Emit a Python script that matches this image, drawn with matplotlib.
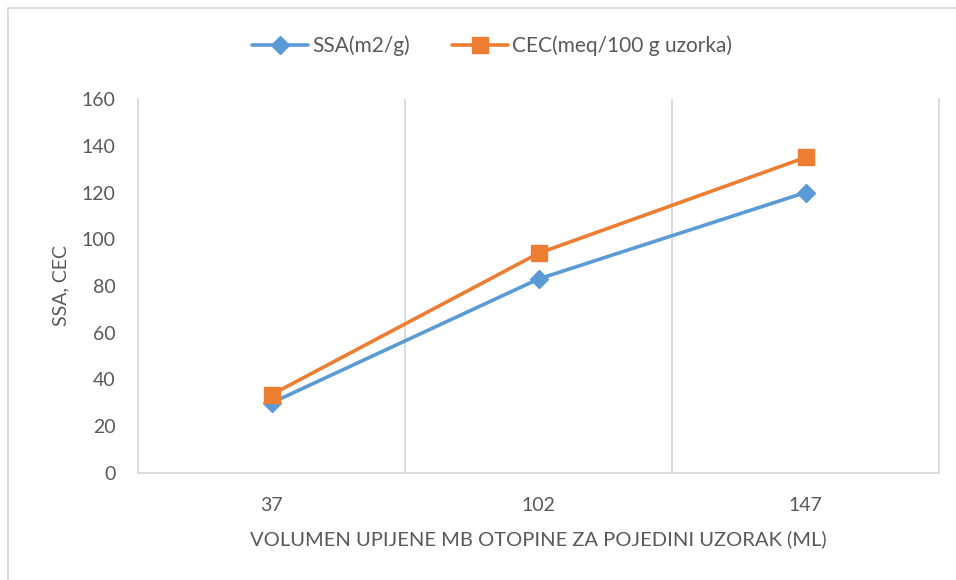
import matplotlib
matplotlib.use("Agg")
import matplotlib.pyplot as plt
from matplotlib.patches import Rectangle

categories = ["37", "102", "147"]
ssa = [30, 83, 120]
cec = [33.5, 94, 135]
yticks = [0, 20, 40, 60, 80, 100, 120, 140, 160]

plt.rcParams['font.family'] = ['Lato', 'DejaVu Sans']
text_c = "#595959"
grid_c = "#D9D9D9"

fig = plt.figure(figsize=(9.56, 5.8), dpi=100)
ax = fig.add_axes([138/956, 1-473/580, (939-138)/956, (473-99)/580])

x = list(range(len(categories)))
ax.plot(x, ssa, color="#5B9BD5", lw=2.6, marker="D", markersize=9,
        label="SSA(m2/g)", solid_capstyle="round")
ax.plot(x, cec, color="#ED7D31", lw=2.6, marker="s", markersize=11,
        label="CEC(meq/100 g uzorka)", solid_capstyle="round")

ax.set_xlim(-0.5, len(categories)-0.5)
ax.set_ylim(0, 160)
ax.set_yticks(yticks)
ax.set_xticks(x)
ax.set_xticklabels(categories)
ax.set_xticks([0.5, 1.5], minor=True)
ax.grid(True, which="minor", axis="x", color=grid_c, lw=1.3)
ax.tick_params(axis="both", which="both", length=0, labelsize=14, colors=text_c)
ax.tick_params(axis="x", pad=17)
ax.tick_params(axis="y", pad=16)
for s in ["left", "right", "bottom"]:
    ax.spines[s].set_color(grid_c)
    ax.spines[s].set_linewidth(1.3)
ax.spines["top"].set_visible(False)

ax.set_ylabel("SSA, CEC", fontsize=14, color=text_c, labelpad=9)
ax.set_xlabel("VOLUMEN UPIJENE MB OTOPINE ZA POJEDINI UZORAK (ML)",
              fontsize=14.5, color=text_c, labelpad=12)

leg = fig.legend(loc="center", bbox_to_anchor=(0.515, 1-46/580), ncol=2,
                 frameon=False, fontsize=15, handlelength=2.7,
                 columnspacing=2.0, handletextpad=0.2)
for t in leg.get_texts():
    t.set_color(text_c)

fig.patches.append(Rectangle((8/956, -0.1), 1.2, 1-8/580+0.1,
                             transform=fig.transFigure, fill=False,
                             edgecolor=grid_c, lw=1.3))

fig.savefig("out.png", dpi=100)
